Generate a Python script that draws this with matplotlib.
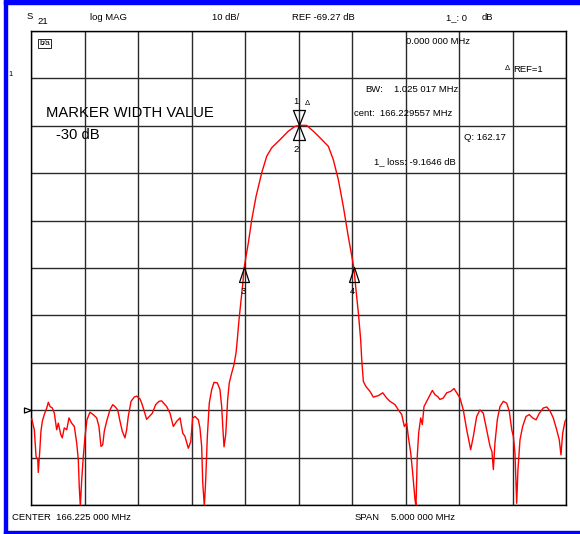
import matplotlib
matplotlib.use("Agg")
import matplotlib.pyplot as plt
from matplotlib.path import Path
from matplotlib.patches import Rectangle
from matplotlib import font_manager

# ---------------- data ----------------
center_mhz = 166.225
span_mhz = 5.0
ref_db = -69.27
db_per_div = 10.0
ref_div_from_bottom = 2

# trace: frequency offset from centre (kHz) and level (dB)
offset_khz = [
    -2493, -2469, -2453, -2437, -2432, -2419, -2407, -2394, -2376, -2353,
    -2338, -2322, -2301, -2282, -2260, -2245, -2222, -2208, -2189, -2166,
    -2145, -2120, -2095, -2073, -2058, -2049, -2039, -2026, -2011, -1995,
    -1977, -1949, -1918, -1886, -1865, -1846, -1830, -1815, -1793, -1762,
    -1736, -1715, -1690, -1668, -1647, -1622, -1606, -1591, -1565, -1535,
    -1512, -1481, -1465, -1451, -1419, -1394, -1366, -1335, -1304, -1279,
    -1232, -1201, -1170, -1138, -1107, -1082, -1061, -1030, -1007, -989,
    -967, -936, -921, -905, -895, -880, -867, -852, -834, -811,
    -790, -759, -734, -718, -706, -696, -680, -662, -647, -624,
    -603, -584, -572, -556, -537, -519, -508, -469, -437, -397,
    -344, -297, -250, -173, -95, -33, 14, 77, 138, 201,
    279, 325, 372, 419, 465, 517, 537, 561, 581, 591,
    606, 631, 668, 699, 746, 787, 824, 855, 902, 933,
    965, 989, 1011, 1026, 1049, 1067, 1089, 1098, 1110, 1123,
    1142, 1157, 1173, 1198, 1229, 1251, 1276, 1301, 1322, 1353,
    1385, 1422, 1453, 1479, 1509, 1540, 1572, 1609, 1634, 1665,
    1696, 1727, 1759, 1790, 1808, 1821, 1836, 1858, 1883, 1914,
    1946, 1970, 1993, 2008, 2023, 2039, 2051, 2070, 2095, 2126,
    2157, 2189, 2220, 2251, 2288, 2320, 2350, 2381, 2413, 2437,
    2453, 2469, 2491, 2500,
]
level_db = [
    -71.1, -73.4, -79.0, -79.7, -82.4, -78.2, -73.7, -71.6, -70.2, -68.8,
    -67.6, -68.5, -68.8, -69.9, -73.4, -72.0, -74.4, -75.1, -73.0, -73.4,
    -70.9, -72.0, -72.7, -76.2, -79.7, -85.4, -89.5, -83.9, -79.0, -74.8,
    -71.3, -69.7, -70.2, -70.9, -72.7, -76.9, -76.6, -73.7, -71.6, -69.2,
    -68.1, -68.5, -69.2, -71.6, -73.7, -75.1, -73.4, -70.6, -67.4, -66.5,
    -66.3, -66.9, -67.8, -68.8, -71.2, -70.6, -69.9, -68.1, -67.4, -67.3,
    -68.5, -69.9, -72.7, -71.6, -70.9, -74.1, -74.8, -77.3, -75.9, -70.9,
    -70.6, -71.3, -73.0, -76.9, -84.6, -89.5, -83.9, -74.8, -67.8, -64.9,
    -63.4, -63.5, -64.9, -68.5, -73.4, -77.0, -74.4, -67.0, -63.5, -61.4,
    -59.7, -57.2, -54.4, -50.2, -46.0, -42.2, -39.16, -34.0, -29.1, -24.2,
    -19.2, -15.7, -13.9, -12.2, -10.4, -9.4, -9.16, -9.2, -10.4, -11.8,
    -13.6, -16.4, -20.6, -26.3, -32.6, -39.16, -43.8, -49.1, -54.4, -58.6,
    -63.2, -64.3, -65.3, -66.5, -66.2, -65.6, -66.7, -67.4, -68.1, -69.2,
    -70.2, -72.7, -72.0, -74.8, -78.3, -82.5, -88.2, -89.5, -79.0, -74.1,
    -70.9, -72.3, -68.5, -67.4, -66.0, -65.1, -66.0, -66.4, -67.0, -66.7,
    -65.6, -65.3, -64.7, -65.6, -66.7, -69.2, -73.4, -77.6, -74.8, -70.6,
    -69.2, -69.9, -73.4, -76.9, -78.0, -81.8, -76.2, -71.3, -68.5, -67.4,
    -67.8, -69.5, -73.4, -74.8, -78.3, -88.9, -81.8, -75.5, -72.7, -70.6,
    -70.2, -70.9, -71.3, -69.9, -68.8, -68.6, -69.4, -70.9, -73.4, -75.5,
    -78.7, -74.1, -71.6, -71.3,
]

# markers
marker_peak_khz = 5
marker_peak_db = -9.16
marker_lo_khz = -508
marker_hi_khz = 517
marker_width_db = -39.16

freq_mhz = [center_mhz + k / 1000.0 for k in offset_khz]

# ---------------- fonts ----------------
avail = {f.name for f in font_manager.fontManager.ttflist}
narrow = "Liberation Sans Narrow" in avail
base = "Liberation Sans Narrow" if narrow else "Liberation Sans"
plt.rcParams["font.family"] = [base, "DejaVu Sans"]
SMALL = 7.7 if narrow else 6.8
LARGE = 12.6 if narrow else 10.6

W, H = 580, 534
fig = plt.figure(figsize=(W / 100, H / 100), dpi=100)
fig.patch.set_facecolor("white")

ax_l, ax_r, ax_t, ax_b = 31, 566, 31, 505
ax = fig.add_axes([ax_l / W, 1 - ax_b / H, (ax_r - ax_l) / W, (ax_b - ax_t) / H])

ymin = ref_db - ref_div_from_bottom * db_per_div
ymax = ymin + 10 * db_per_div
xmin = center_mhz - span_mhz / 2
xmax = center_mhz + span_mhz / 2
ax.set_xlim(xmin, xmax)
ax.set_ylim(ymin, ymax)
ax.set_xticks([xmin + i * span_mhz / 10 for i in range(11)])
ax.set_yticks([ymin + i * db_per_div for i in range(11)])
ax.tick_params(length=0, labelbottom=False, labelleft=False)
ax.grid(True, color="#2a2a2a", lw=1.0)
ax.set_axisbelow(True)
for s in ax.spines.values():
    s.set_color("black")
    s.set_linewidth(1.0)

ax.plot(freq_mhz, level_db, color="#ff0000", lw=1.0, zorder=3)

# marker shapes (apex at the data point)
down_tri = Path([(0, 0), (-0.4, 1), (0.4, 1), (0, 0)], closed=True)
up_tri = Path([(0, 0), (-0.4, -1), (0.4, -1), (0, 0)], closed=True)
up_tri_n = Path([(0, 0), (-0.33, -1), (0.33, -1), (0, 0)], closed=True)
ref_tri = Path([(0, 0), (-1, 0.36), (-1, -0.36), (0, 0)], closed=True)

fpk = center_mhz + marker_peak_khz / 1000.0
flo = center_mhz + marker_lo_khz / 1000.0
fhi = center_mhz + marker_hi_khz / 1000.0

mk = dict(color="black", mfc="none", mec="black", mew=0.9, ls="none", zorder=4, clip_on=False)
ax.plot([fpk], [marker_peak_db], marker=down_tri, ms=21.6, **mk)
ax.plot([fpk], [marker_peak_db], marker=up_tri, ms=21.6, **mk)
ax.plot([flo, fhi], [marker_width_db, marker_width_db], marker=up_tri_n, ms=21.6, **mk)
ax.plot([xmin], [ref_db], marker=ref_tri, ms=10.1, **mk)

lab = dict(textcoords="offset pixels", ha="center", va="center", fontsize=SMALL, color="black")
ax.annotate("1", (fpk, marker_peak_db), xytext=(-3, 24), **lab)
ax.annotate("Δ", (fpk, marker_peak_db), xytext=(8, 22), textcoords="offset pixels",
            ha="center", va="center", fontsize=5.5, color="black")
ax.annotate("2", (fpk, marker_peak_db), xytext=(-3, -24), **lab)
ax.annotate("3", (flo, marker_width_db), xytext=(-1, -24), **lab)
ax.annotate("4", (fhi, marker_width_db), xytext=(-1, -24), **lab)


def t(x, y, s, size=None, ha="left", **kw):
    fig.text(x / W, 1 - y / H, s, fontsize=SMALL if size is None else size,
             ha=ha, va="center", color="black", **kw)


# header
t(27, 16.5, "S")
t(37, 22, "21")
t(90.5, 17.5, "log MAG")
t(212, 17.5, "10 dB/")
t(292, 17.5, "REF -69.27 dB")
t(446, 17.5, "1_: 0")
t(482, 17.5, "dB")

# annotations inside grid
t(406, 41.5, "0.000 000 MHz")
t(505, 69, "Δ", size=5.5)
t(513, 69, "REF=1")
t(44.5, 43.5, "b⁄a", size=6, ha="center",
  bbox=dict(boxstyle="square,pad=0.15", fc="white", ec="black", lw=0.6))
t(365, 90, "BW:")
t(394, 90, "1.025 017 MHz")
t(354, 114, "cent:  166.229557 MHz")
t(464, 137, "Q: 162.17")
t(374, 162, "1_ loss: -9.1646 dB")
t(46, 113, "MARKER WIDTH VALUE", size=LARGE)
t(56, 135, "-30 dB", size=LARGE)
t(8.5, 74, "1", size=5.5)

# footer
t(12, 517, "CENTER  166.225 000 MHz")
t(355, 517, "SPAN")
t(391, 517, "5.000 000 MHz")

# blue frame
blue = "#0000ff"
fig.patches.append(Rectangle((4 / W, 0), 3.3 / W, 1, transform=fig.transFigure, color=blue, zorder=10))
fig.patches.append(Rectangle((4 / W, 1 - 4 / H), 1, 4 / H, transform=fig.transFigure, color=blue, zorder=10))
fig.patches.append(Rectangle((4 / W, 0), 1, 3 / H, transform=fig.transFigure, color=blue, zorder=10))

fig.savefig("out.png", dpi=100, facecolor="white")
